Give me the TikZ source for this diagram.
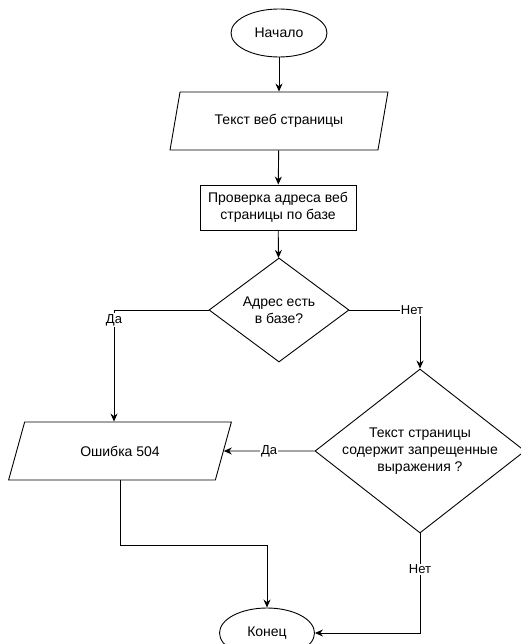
\documentclass[tikz,border=0pt]{standalone}
\usepackage{fontspec}
\setmainfont{Liberation Sans}
\usetikzlibrary{shapes.geometric,arrows.meta}
\begin{document}
\begin{tikzpicture}[x=1pt, y=-1pt, line width=0.9pt, font=\fontsize{14}{17}\selectfont,
    term/.style={draw, ellipse, inner sep=0pt, minimum width=96pt, minimum height=48pt},
    io/.style={draw, trapezium, trapezium stretches=true, minimum height=58pt, align=center},
    proc/.style={draw, rectangle, inner sep=2pt, minimum width=156pt, minimum height=45pt, align=center},
    decision/.style={draw, diamond, inner xsep=-8pt, inner ysep=-4pt, align=center},
    arr/.style={-{Stealth[length=8pt,width=7pt]}},
    lbl/.style={fill=white, inner sep=1pt, font=\fontsize{13}{15}\selectfont}]
  \useasboundingbox (0,0) rectangle (520,644);
  %nodes
  \node[term] at (279,33) (start) {Начало};
  \node[io, trapezium left angle=71, trapezium right angle=109, minimum width=218pt] at (279,121) (wpage) {Текст веб страницы};
  \node[proc] at (278,207.5) (check) {Проверка адреса веб\\страницы по базе};
  \node[decision, minimum width=140pt, minimum height=104pt] at (279,310) (inbase) {Адрес есть\\в базе?};
  \node[decision, shape aspect=1.28, minimum width=210pt, minimum height=164pt] at (420,451) (banned) {Текст страницы\\содержит запрещенные\\выражения ?};
  \node[io, trapezium left angle=67, trapezium right angle=113, minimum width=224pt] at (120,451) (err504) {Ошибка 504};
  \node[term, minimum width=95pt, minimum height=50pt] at (267,633) (stop) {Конец};
  % arrows between nodes
  \draw[arr] (start) -- (wpage); \draw[arr] (wpage) -- (check);
  \draw[arr] (check) -- (inbase);
  \draw[arr] (inbase.west) -| node[lbl, pos=0.5, yshift=-10pt] {Да} ([xshift=-6pt]err504.north);
  \draw[arr] (inbase.east) -| node[lbl, pos=0.5, xshift=-8pt] {Нет} (banned.north);
  \draw[arr] (banned.west) -- node[lbl] {Да} (err504.east);
  \draw[arr] (err504.south) -- ++(0,65) -| (stop.north);
  \draw[arr] (banned.south) |- node[lbl, pos=0.18] {Нет} (stop.east);
\end{tikzpicture}
\end{document}
